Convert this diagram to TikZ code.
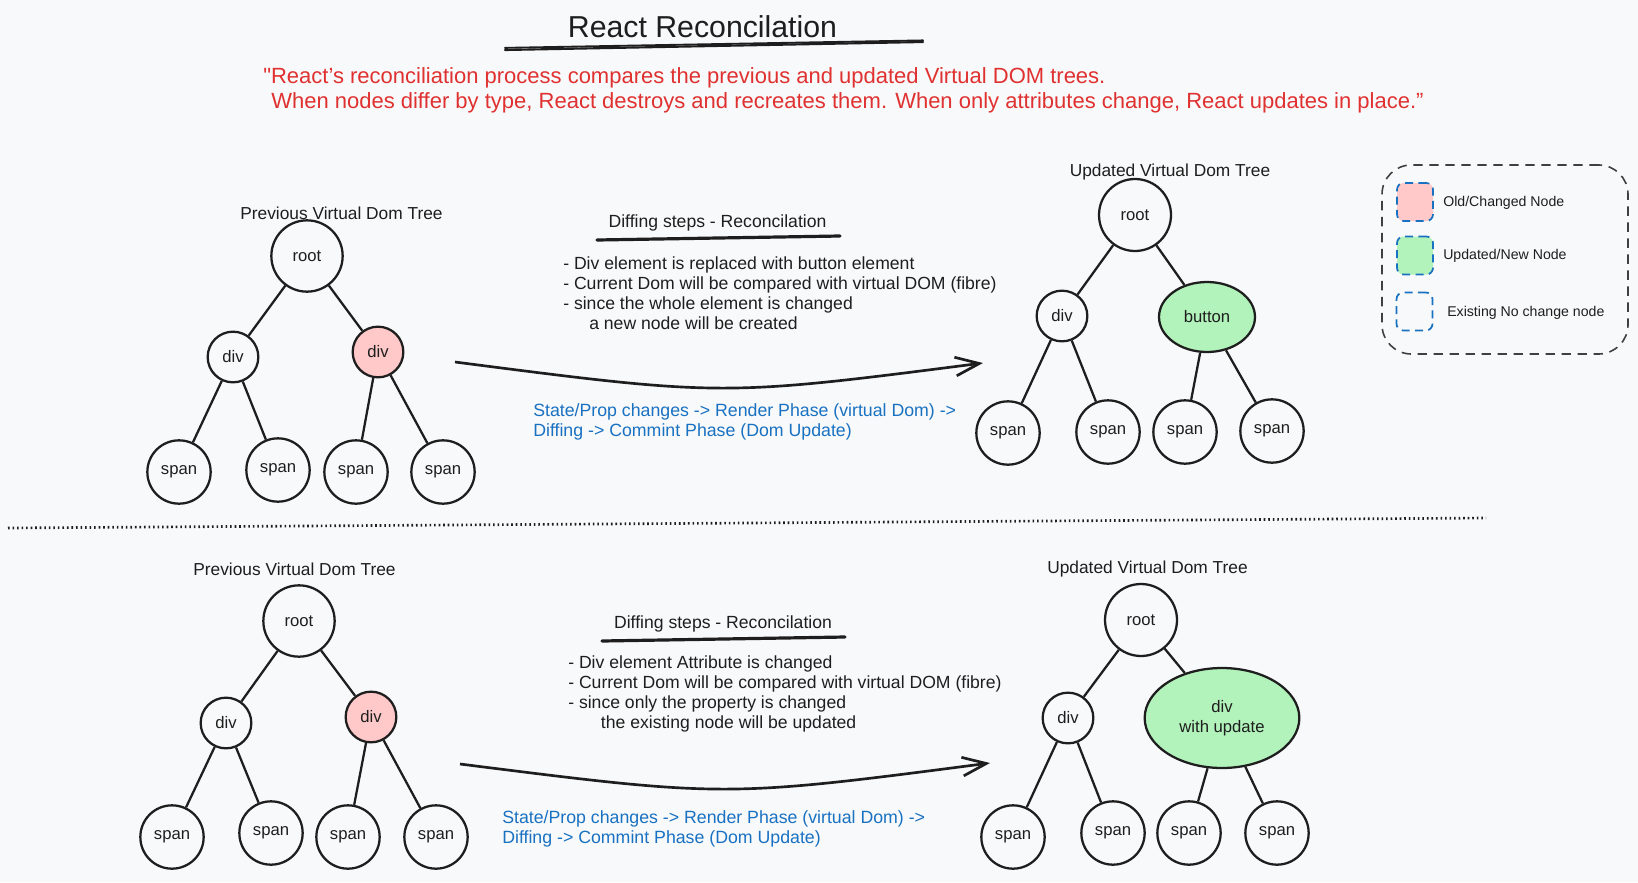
\documentclass[tikz,border=0pt]{standalone}
\usepackage{fontspec}
\setmainfont{Liberation Sans}[Ligatures=TeXOff]
\usetikzlibrary{arrows.meta,shapes.geometric}
\definecolor{ink}{HTML}{1E1E1E}
\definecolor{bgc}{HTML}{F8F9FA}
\definecolor{pinkc}{HTML}{FFC9C9}
\definecolor{greenc}{HTML}{B2F2BB}
\definecolor{bluec}{HTML}{1971C2}
\definecolor{redc}{HTML}{E03131}
\begin{document}
\begin{tikzpicture}[x=0.75pt,y=-0.75pt,
  tnode/.style={circle,draw=ink,line width=1.7pt,inner sep=0pt,text=ink,font=\fontsize{12.5}{15}\selectfont,align=center},
  rootn/.style={tnode,minimum size=53.5pt},
  divn/.style={tnode,minimum size=38pt},
  spann/.style={tnode,minimum size=47.5pt},
  oldn/.style={fill=pinkc},
  newn/.style={ellipse,fill=greenc},
  link/.style={draw=ink,line width=1.7pt},
  treelabel/.style={text=ink,font=\fontsize{13}{15}\selectfont,inner sep=0pt},
  bodytext/.style={text=ink,font=\fontsize{13.2}{15}\selectfont,align=left,anchor=west,inner sep=0pt},
  bluetext/.style={text=bluec,font=\fontsize{13.3}{15}\selectfont,align=left,anchor=west,inner sep=0pt},
  difftitle/.style={text=ink,font=\fontsize{13.2}{15}\selectfont,inner sep=0pt},
  uline/.style={draw=ink,line width=2.4pt,line cap=round},
  bigarrow/.style={draw=ink,line width=2pt,-{Straight Barb[length=18pt,width=14pt,line width=2pt]}},
  swatch/.style={draw=bluec,line width=1.3pt,dash pattern=on 6pt off 4pt,rounded corners=5pt,minimum width=27pt,minimum height=28.5pt,inner sep=0pt},
  legtext/.style={text=ink,font=\fontsize{10.6}{12}\selectfont,anchor=west,inner sep=0pt}
]
\useasboundingbox (0,0) rectangle (1638,882);
\fill[bgc] (0,0) rectangle (1638,882);

% Title
\node[text=ink,font=\fontsize{22.7}{26}\selectfont,inner sep=0pt] (title) at (702.5,27) {React Reconcilation};
\coordinate (tul1) at (505,50); \coordinate (tul2) at (923,42);
\draw[draw=ink,line width=1.6pt,line cap=round] (tul1) -- (tul2);
\draw[draw=ink,line width=1.4pt,line cap=round] ([yshift=1.6pt]tul1) -- ([yshift=1.2pt]tul2);

% Red quote
\node[text=redc,font=\fontsize{16.5}{18.75}\selectfont,align=left,anchor=west,inner sep=0pt] (quote) at (263,90.5)
  {"React’s reconciliation process compares the previous and updated Virtual DOM trees.\\
   \hspace*{6pt}When nodes differ by type, React destroys and recreates them. When only attributes change, React updates in place.”};

% ---------------- Tree 1 (previous, top) ----------------
\node[treelabel] (lab1) at (341.5,213) {Previous Virtual Dom Tree};
\node[rootn] (r1) at (307,256) {root};
\node[divn] (d1a) at (233,357) {div};
\node[divn,oldn] (d1b) at (378,352) {div};
\node[spann] (s1a) at (179,472) {span};
\node[spann] (s1b) at (278,470) {span};
\node[spann] (s1c) at (356,472) {span};
\node[spann] (s1d) at (443,472) {span};
\draw[link] (r1) -- (d1a);
\draw[link] (r1) -- (d1b);
\draw[link] (d1a) -- (s1a);
\draw[link] (d1a) -- (s1b);
\draw[link] (d1b) -- (s1c);
\draw[link] (d1b) -- (s1d);

% ---------------- Diff text (top) ----------------
\node[difftitle] (dt1) at (717.5,223) {Diffing steps - Reconcilation};
\coordinate (du1a) at (597,240); \coordinate (du1b) at (840,236);
\draw[uline] (du1a) -- (du1b);
\node[bodytext] (b1) at (563,293) {- Div element is replaced with button element\\
- Current Dom will be compared with virtual DOM (fibre)\\
- since the whole element is changed\\
\hspace*{19.5pt}a new node will be created};
\coordinate (a1s) at (455,362); \coordinate (a1c) at (722,396.5); \coordinate (a1e) at (983,363);
\draw[bigarrow] (a1s) .. controls (a1c) .. (a1e);
\node[bluetext] (bl1) at (533,421.5) {State/Prop changes -> Render Phase (virtual Dom) ->\\
Diffing -> Commint Phase (Dom Update)};

% ---------------- Tree 2 (updated, top) ----------------
\node[treelabel] (lab2) at (1170,172) {Updated Virtual Dom Tree};
\node[rootn,minimum size=54pt] (r2) at (1135,215) {root};
\node[divn] (d2a) at (1062,316) {div};
\node[tnode,newn,minimum width=72pt,minimum height=52.5pt] (b2) at (1207,317) {button};
\node[spann] (s2a) at (1008,433) {span};
\node[spann] (s2b) at (1108,432) {span};
\node[spann] (s2c) at (1185,432) {span};
\node[spann] (s2d) at (1272,431) {span};
\draw[link] (r2) -- (d2a);
\draw[link] (r2) -- (b2);
\draw[link] (d2a) -- (s2a);
\draw[link] (d2a) -- (s2b);
\draw[link] (b2) -- (s2c);
\draw[link] (b2) -- (s2d);

% ---------------- Legend ----------------
\node[draw=ink!85,line width=1.2pt,dash pattern=on 7pt off 5pt,rounded corners=22pt,minimum width=184.5pt,minimum height=141.75pt,inner sep=0pt] (legbox) at (1505,259.5) {};
\node[swatch,fill=pinkc] (sw1) at (1415,202) {};
\node[swatch,fill=greenc] (sw2) at (1415,255.5) {};
\node[swatch] (sw3) at (1414.5,311.5) {};
\node[legtext] (lt1) at (1443,203) {Old/Changed Node};
\node[legtext] (lt2) at (1443,256) {Updated/New Node};
\node[legtext] (lt3) at (1447,313) {Existing No change node};

% ---------------- Separator ----------------
\coordinate (sepa) at (8,528); \coordinate (sepb) at (1486,518);
\draw[draw=ink,line width=2pt,dash pattern=on 1.2pt off 2.2pt] (sepa) -- (sepb);

% ---------------- Tree 3 (previous, bottom) ----------------
\node[treelabel] (lab3) at (294.5,569) {Previous Virtual Dom Tree};
\node[rootn] (r3) at (299,621) {root};
\node[divn] (d3a) at (226,723) {div};
\node[divn,oldn] (d3b) at (371,717) {div};
\node[spann] (s3a) at (172,837) {span};
\node[spann] (s3b) at (271,833) {span};
\node[spann] (s3c) at (348,837) {span};
\node[spann] (s3d) at (436,837) {span};
\draw[link] (r3) -- (d3a);
\draw[link] (r3) -- (d3b);
\draw[link] (d3a) -- (s3a);
\draw[link] (d3a) -- (s3b);
\draw[link] (d3b) -- (s3c);
\draw[link] (d3b) -- (s3d);

% ---------------- Diff text (bottom) ----------------
\node[difftitle] (dt2) at (723,624) {Diffing steps - Reconcilation};
\coordinate (du2a) at (602,641); \coordinate (du2b) at (845,637);
\draw[uline] (du2a) -- (du2b);
\node[bodytext] (b2t) at (568,694) {- Div element Attribute is changed\\
- Current Dom will be compared with virtual DOM (fibre)\\
- since only the property is changed\\
\hspace*{24.5pt}the existing node will be updated};
\coordinate (a2s) at (460,764); \coordinate (a2c) at (725,797.5); \coordinate (a2e) at (990,763);
\draw[bigarrow] (a2s) .. controls (a2c) .. (a2e);
\node[bluetext] (bl2) at (502,829) {State/Prop changes -> Render Phase (virtual Dom) ->\\
Diffing -> Commint Phase (Dom Update)};

% ---------------- Tree 4 (updated, bottom) ----------------
\node[treelabel] (lab4) at (1147.5,569) {Updated Virtual Dom Tree};
\node[rootn,minimum size=54pt] (r4) at (1141,620) {root};
\node[divn] (d4a) at (1068,718) {div};
\node[tnode,newn,minimum width=116pt,minimum height=75pt] (u4) at (1222,718) {div\\with update};
\node[spann] (s4a) at (1013,837) {span};
\node[spann] (s4b) at (1113,833) {span};
\node[spann] (s4c) at (1189,833) {span};
\node[spann] (s4d) at (1277,833) {span};
\draw[link] (r4) -- (d4a);
\draw[link] (r4) -- (u4);
\draw[link] (d4a) -- (s4a);
\draw[link] (d4a) -- (s4b);
\draw[link] (u4) -- (s4c);
\draw[link] (u4) -- (s4d);
\end{tikzpicture}
\end{document}
